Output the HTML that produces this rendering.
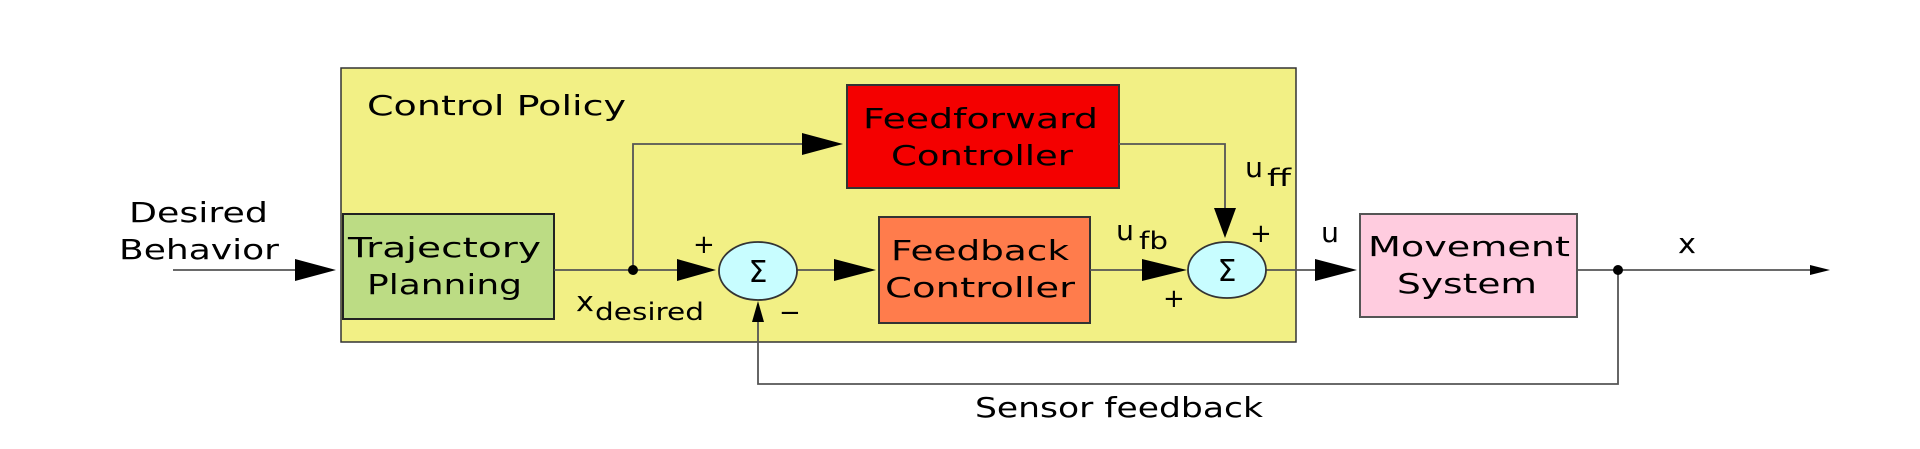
<!DOCTYPE html>
<html><head><meta charset="utf-8"><style>
html,body{margin:0;padding:0;background:#fff;}
svg{display:block;}
text{font-family:"DejaVu Sans","Liberation Sans",sans-serif;fill:#000;}
</style></head><body>
<svg width="1920" height="449" viewBox="0 0 1920 449" xmlns="http://www.w3.org/2000/svg">
<rect x="341" y="68" width="955" height="274" fill="#f2f085" stroke="#333" stroke-width="1.5"/>
<rect x="343" y="214" width="211" height="105" fill="#bcdc84" stroke="#222" stroke-width="2"/>
<rect x="847" y="85" width="272" height="103" fill="#f40000" stroke="#333" stroke-width="2"/>
<rect x="879" y="217" width="211" height="106" fill="#ff7c4c" stroke="#333" stroke-width="2"/>
<rect x="1360" y="214" width="217" height="103" fill="#ffccdf" stroke="#555" stroke-width="2"/>
<g stroke="#555" stroke-width="1.8" fill="none">
<line x1="173" y1="270" x2="300" y2="270"/>
<line x1="554" y1="270" x2="680" y2="270"/>
<polyline points="633,270 633,144 805,144"/>
<line x1="797" y1="270" x2="838" y2="270"/>
<line x1="1090" y1="270" x2="1145" y2="270"/>
<polyline points="1119,144 1225,144 1225,210"/>
<line x1="1266" y1="270" x2="1318" y2="270"/>
<line x1="1577" y1="270" x2="1815" y2="270"/>
<polyline points="1618,270 1618,384 758,384 758,318"/>
</g>
<g fill="#000">
<polygon points="295,259 336,270 295,281"/>
<polygon points="677,259 716,270 677,281"/>
<polygon points="802,133 843,144 802,155"/>
<polygon points="834,259 876,270 834,281"/>
<polygon points="1142,259 1187,270 1142,281"/>
<polygon points="1315,259 1357,270 1315,281"/>
<polygon points="1214,208 1236,208 1225,238"/>
<polygon points="1810,265 1830,270 1810,275"/>
<polygon points="752,322 764,322 758,301"/>
<circle cx="633" cy="270" r="5"/>
<circle cx="1618" cy="270" r="5"/>
</g>
<ellipse cx="758" cy="271" rx="39" ry="29" fill="#c8fdff" stroke="#333" stroke-width="1.8"/>
<ellipse cx="1227" cy="270" rx="39" ry="28" fill="#c8fdff" stroke="#333" stroke-width="1.8"/>
<text x="758" y="282" font-size="30" text-anchor="middle">Σ</text>
<text x="1227" y="281" font-size="30" text-anchor="middle">Σ</text>
<g font-size="28">
<text x="129" y="222" textLength="139" lengthAdjust="spacingAndGlyphs">Desired</text>
<text x="119" y="259" textLength="160" lengthAdjust="spacingAndGlyphs">Behavior</text>
<text x="367" y="115" textLength="259" lengthAdjust="spacingAndGlyphs">Control Policy</text>
<text x="348" y="257" textLength="193" lengthAdjust="spacingAndGlyphs">Trajectory</text>
<text x="367" y="294" textLength="155" lengthAdjust="spacingAndGlyphs">Planning</text>
<text x="863" y="128" textLength="235" lengthAdjust="spacingAndGlyphs">Feedforward</text>
<text x="891" y="165" textLength="182" lengthAdjust="spacingAndGlyphs">Controller</text>
<text x="891" y="260" textLength="178" lengthAdjust="spacingAndGlyphs">Feedback</text>
<text x="885" y="297" textLength="190" lengthAdjust="spacingAndGlyphs">Controller</text>
<text x="1368" y="256" textLength="202" lengthAdjust="spacingAndGlyphs">Movement</text>
<text x="1397" y="293" textLength="140" lengthAdjust="spacingAndGlyphs">System</text>
<text x="975" y="417" textLength="288" lengthAdjust="spacingAndGlyphs">Sensor feedback</text>
<text x="576" y="311" textLength="18" lengthAdjust="spacingAndGlyphs">x</text>
<text x="1245" y="177" textLength="18" lengthAdjust="spacingAndGlyphs">u</text>
<text x="1116" y="240" textLength="18" lengthAdjust="spacingAndGlyphs">u</text>
<text x="1321" y="242" textLength="18" lengthAdjust="spacingAndGlyphs">u</text>
<text x="1678" y="253" textLength="18" lengthAdjust="spacingAndGlyphs">x</text>
</g>
<g font-size="24">
<text x="595" y="320" textLength="109" lengthAdjust="spacingAndGlyphs">desired</text>
<text x="1267" y="186" textLength="24" lengthAdjust="spacingAndGlyphs">ff</text>
<text x="1139" y="249" textLength="29" lengthAdjust="spacingAndGlyphs">fb</text>
<text x="693" y="253" font-size="26">+</text>
<text x="1250" y="242" font-size="26">+</text>
<text x="1163" y="307" font-size="26">+</text>
<text x="779" y="321" font-size="26">−</text>
</g>
</svg>
</body></html>
